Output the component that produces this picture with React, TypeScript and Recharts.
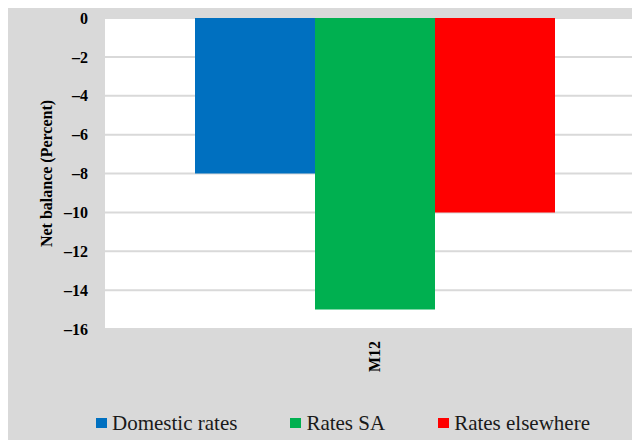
import { BarChart, Bar, XAxis, YAxis, CartesianGrid, Legend } from 'recharts';

const categories = ['M12'];
const domesticRates = [-8];
const ratesSA = [-15];
const ratesElsewhere = [-10];
const yTicks = [0, -2, -4, -6, -8, -10, -12, -14, -16];

const series = [
  { key: 'domestic', name: 'Domestic rates', color: '#0070c0', values: domesticRates },
  { key: 'sa', name: 'Rates SA', color: '#00b050', values: ratesSA },
  { key: 'elsewhere', name: 'Rates elsewhere', color: '#ff0000', values: ratesElsewhere },
];

const chartData = categories.map((period, i) => {
  const row: Record<string, string | number> = { period };
  series.forEach((s) => {
    row[s.key] = s.values[i];
  });
  return row;
});

const SERIF = '"Liberation Serif", "Times New Roman", serif';
const PANEL = '#d9d9d9';

// minus signs are drawn as en dashes, like the spreadsheet default
const formatTick = (v: number) => (v < 0 ? `\u2013${Math.abs(v)}` : `${v}`);

const PeriodTick = ({ x, y, payload }: any) => (
  <text
    x={x}
    y={y}
    transform={`rotate(-90 ${x} ${y})`}
    textAnchor="end"
    dy="0.35em"
    fontFamily={SERIF}
    fontWeight="bold"
    fontSize={16}
    fill="#000"
  >
    {payload.value}
  </text>
);

const YAxisTitle = ({ viewBox }: any) => {
  const cx = 46;
  const cy = viewBox.y + viewBox.height / 2;
  return (
    <text
      x={cx}
      y={cy}
      transform={`rotate(-90 ${cx} ${cy})`}
      textAnchor="middle"
      dy="0.35em"
      fontFamily={SERIF}
      fontWeight="bold"
      fontSize={16}
      fill="#000"
    >
      Net balance (Percent)
    </text>
  );
};

const LegendRow = () => (
  <div
    style={{
      height: 50,
      display: 'flex',
      alignItems: 'center',
      paddingLeft: 96,
      fontFamily: SERIF,
      fontSize: 21,
      color: '#1a1a1a',
    }}
  >
    {series.map((s) => (
      <div key={s.key} style={{ display: 'flex', alignItems: 'center', marginRight: 53 }}>
        <span style={{ width: 11, height: 10, background: s.color, marginRight: 5, display: 'inline-block' }} />
        <span>{s.name}</span>
      </div>
    ))}
  </div>
);

export default function App() {
  return (
    <div
      style={{
        position: 'relative',
        margin: -8,
        width: 640,
        height: 448,
        overflow: 'hidden',
        background: '#fff',
      }}
    >
      <div style={{ position: 'absolute', left: 7, top: 7, right: 0, bottom: 0, background: PANEL }} />
      <svg width={640} height={12} style={{ position: 'absolute', left: 0, top: 0 }}>
        <text x={12} y={0} fontFamily={SERIF} fontWeight="bold" fontSize={33} fill="#000">
          (b) Lending Rates
        </text>
      </svg>
      <div style={{ position: 'absolute', left: 0, top: 0 }}>
        <BarChart
          width={644}
          height={448}
          data={chartData}
          margin={{ top: 18, right: 0, bottom: 0, left: 0 }}
          barGap={0}
          barSize={120}
        >
          <CartesianGrid vertical={false} stroke={PANEL} strokeWidth={2} fill="#fff" fillOpacity={1} />
          <XAxis
            dataKey="period"
            axisLine={false}
            tickLine={false}
            tickMargin={6}
            height={69}
            tick={<PeriodTick />}
            interval={0}
          />
          <YAxis
            width={105}
            domain={[-16, 0]}
            ticks={yTicks}
            axisLine={false}
            tickLine={false}
            tickMargin={11}
            tickFormatter={formatTick}
            tick={{ fontFamily: SERIF, fontWeight: 'bold', fontSize: 16, fill: '#000' }}
            label={<YAxisTitle />}
          />
          <Legend verticalAlign="bottom" height={50} content={<LegendRow />} />
          {series.map((s) => (
            <Bar key={s.key} dataKey={s.key} name={s.name} fill={s.color} isAnimationActive={false} />
          ))}
        </BarChart>
      </div>
    </div>
  );
}
